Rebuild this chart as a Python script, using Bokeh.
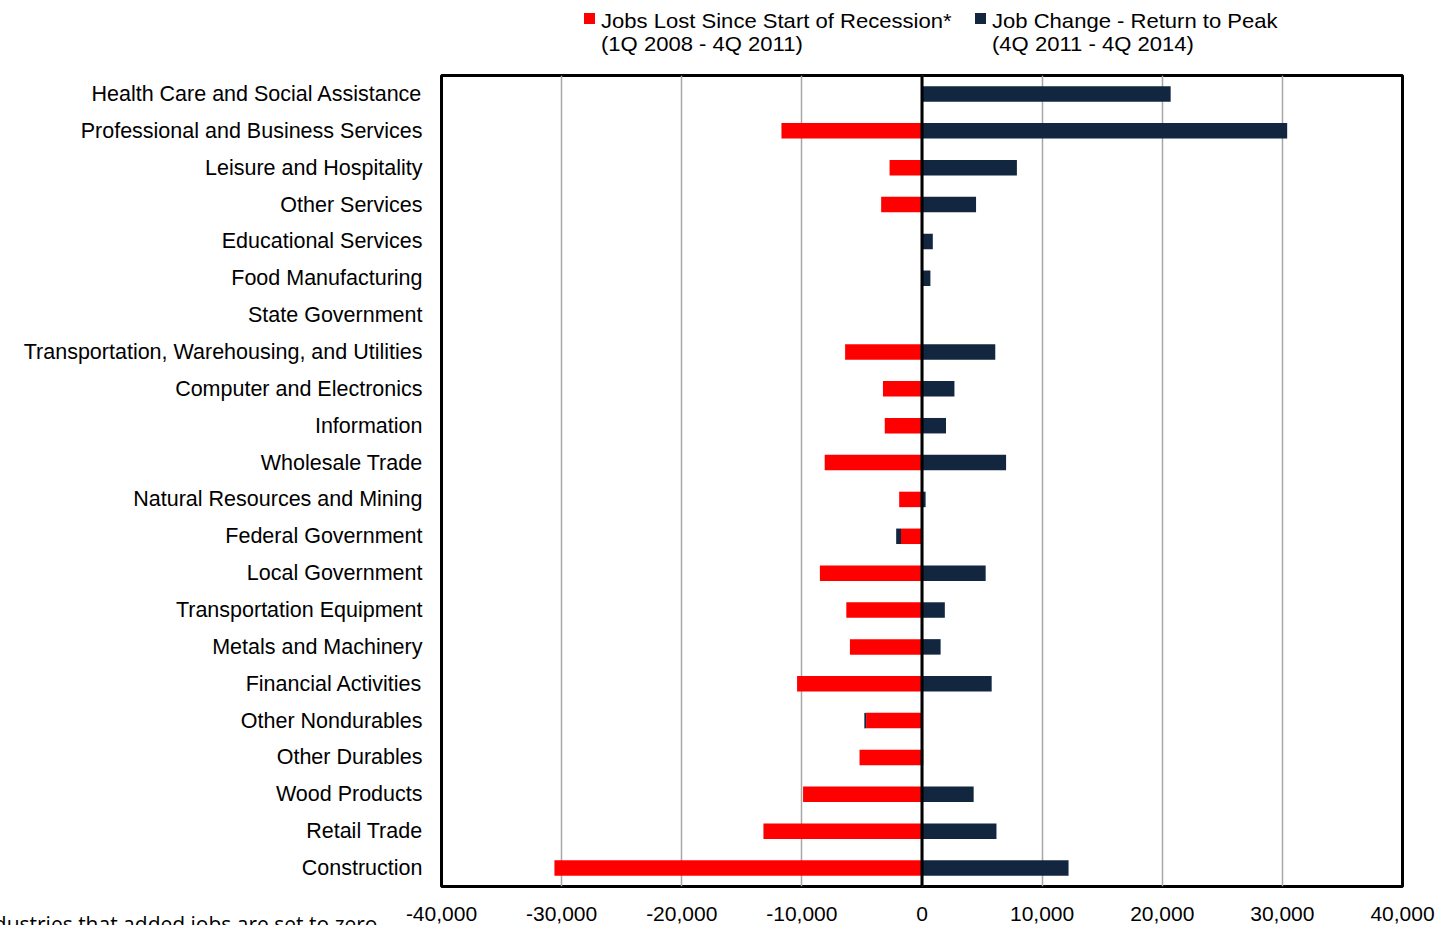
from bokeh.plotting import figure
from bokeh.models import (ColumnDataSource, FactorRange, FixedTicker, NumeralTickFormatter,
                          Span, Div)
from bokeh.layouts import column
from bokeh.embed import file_html
from bokeh.resources import INLINE

# Industries, top to bottom
industries = [
    "Health Care and Social Assistance",
    "Professional and Business Services",
    "Leisure and Hospitality",
    "Other Services",
    "Educational Services",
    "Food Manufacturing",
    "State Government",
    "Transportation, Warehousing, and Utilities",
    "Computer and Electronics",
    "Information",
    "Wholesale Trade",
    "Natural Resources and Mining",
    "Federal Government",
    "Local Government",
    "Transportation Equipment",
    "Metals and Machinery",
    "Financial Activities",
    "Other Nondurables",
    "Other Durables",
    "Wood Products",
    "Retail Trade",
    "Construction",
]

# Jobs lost, 1Q 2008 - 4Q 2011
jobs_lost = [0, -11700, -2700, -3400, 0, 0, 0, -6400, -3250, -3100, -8100, -1900,
             -1750, -8500, -6300, -6000, -10400, -4650, -5200, -9900, -13200, -30600]

# Job change, 4Q 2011 - 4Q 2014
job_change = [20700, 30400, 7900, 4500, 900, 700, 0, 6100, 2700, 2000, 7000, 300,
              -400, 5300, 1900, 1550, 5800, -150, 100, 4300, 6200, 12200]

x_ticks = [-40000, -30000, -20000, -10000, 0, 10000, 20000, 30000, 40000]

series_names = ["Jobs Lost Since Start of Recession*", "Job Change - Return to Peak"]
series_periods = ["(1Q 2008 - 4Q 2011)", "(4Q 2011 - 4Q 2014)"]
footnote = "*Industries that added jobs are set to zero."

RED = "#FF0000"
NAVY = "#13263F"
FONT = "Liberation Sans"

# Stack: positive and negative values build away from zero separately
lost_left = [min(v, 0) for v in jobs_lost]
lost_right = [max(v, 0) for v in jobs_lost]
chg_left, chg_right = [], []
for lost, chg in zip(jobs_lost, job_change):
    if chg >= 0:
        base = max(lost, 0)
        chg_left.append(base)
        chg_right.append(base + chg)
    else:
        base = min(lost, 0)
        chg_left.append(base + chg)
        chg_right.append(base)

src = ColumnDataSource(dict(ind=industries, l1=lost_left, r1=lost_right,
                            l2=chg_left, r2=chg_right))

p = figure(width=1436, height=859, output_backend="svg", toolbar_location=None,
           y_range=FactorRange(factors=list(reversed(industries))),
           x_range=(-40000, 40000),
           min_border_left=441, min_border_right=34, min_border_top=3, min_border_bottom=45,
           margin=0)

p.hbar(y="ind", left="l1", right="r1", height=0.42, source=src, fill_color=RED, line_color=None)
p.hbar(y="ind", left="l2", right="r2", height=0.42, source=src, fill_color=NAVY, line_color=None)

# zero line
p.add_layout(Span(location=0, dimension="height", line_color="black", line_width=3))

p.outline_line_color = "black"
p.outline_line_width = 3
p.ygrid.grid_line_color = None
p.xgrid.grid_line_color = "#A6A6A6"
p.xgrid.grid_line_width = 1.5
p.xaxis.ticker = FixedTicker(ticks=x_ticks)
p.xaxis.formatter = NumeralTickFormatter(format="0,0")

for ax in (p.xaxis, p.yaxis):
    ax.axis_line_color = None
    ax.major_tick_line_color = None
    ax.minor_tick_line_color = None
    ax.major_tick_out = 0
    ax.major_label_text_font = FONT
    ax.major_label_text_color = "black"
p.xaxis.major_label_text_font_size = "21px"
p.yaxis.major_label_text_font_size = "21.5px"
p.xaxis.major_label_standoff = 20
p.yaxis.major_label_standoff = 19

# legend row above the plot
colors = [RED, NAVY]
swatch_left = [584, 975]
text_left = [601, 992]
items = []
for name, period, c, sl, tl in zip(series_names, series_periods, colors, swatch_left, text_left):
    items.append(
        f'<span style="position:absolute;left:{sl}px;top:13px;width:11px;height:11px;'
        f'background:{c};"></span>'
        f'<span style="position:absolute;left:{tl}px;top:9px;white-space:nowrap;'
        f'transform:scaleX(1.05);transform-origin:left top;">{name}<br>{period}</span>'
    )
legend_html = (
    f'<div style="position:relative;width:1436px;height:72px;font-family:\'{FONT}\';'
    f'font-size:21px;line-height:23px;color:#000;">' + "".join(items) + "</div>"
)
legend = Div(text=legend_html, width=1436, height=72, margin=0)

# footnote, tucked into the lower-left corner beside the x-axis labels
foot_html = (
    '<div style="position:relative;width:441px;height:12px;overflow:hidden;">'
    '<span style="position:absolute;right:58px;top:-4px;white-space:nowrap;'
    f'font-family:\'Open Sans\';font-size:21px;color:#000;">{footnote}</span></div>'
)
foot = Div(text=foot_html, width=441, height=12, margin=(-18, 0, 0, 0),
           styles={"overflow": "hidden"})

layout = column(legend, p, foot, width=1436, height=925, spacing=0,
                styles={"overflow": "hidden"})

open("out.html", "w").write(file_html(layout, INLINE))
